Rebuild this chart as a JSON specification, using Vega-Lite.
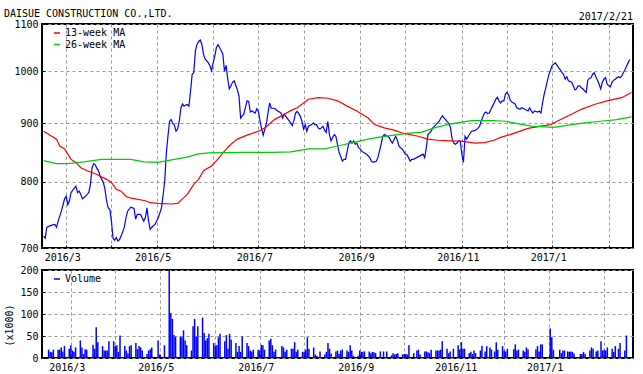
{
"$schema":"https://vega.github.io/schema/vega-lite/v6.json",
"background":"white",
"padding":{"left":3,"top":9,"right":10,"bottom":5},
"title":{"text":"DAISUE CONSTRUCTION CO.,LTD.","anchor":"start","font":"DejaVu Sans Mono","fontSize":10,"fontWeight":"normal","color":"#000","frame":"bounds","offset":-8},
"config":{
"font":"DejaVu Sans Mono",
"view":{"stroke":"#000","strokeWidth":2},
"axis":{"labelFont":"DejaVu Sans Mono","labelFontSize":10,"labelColor":"#000","titleFont":"DejaVu Sans Mono","titleFontSize":10,"titleFontWeight":"normal","titleColor":"#000","domain":false,"ticks":true,"tickSize":-3,"tickColor":"#000","tickWidth":1,"grid":true,"gridColor":"#999999","gridDash":[3,3],"gridWidth":1,"labelPadding":7},
"legend":{"symbolType":"stroke","symbolSize":36,"symbolStrokeWidth":1.5,"labelFont":"DejaVu Sans Mono","labelFontSize":10,"labelColor":"#000","padding":0,"rowPadding":1.5,"labelOffset":4}
},
"datasets":{
"price":[
{"date":"2016-02-22","value":717},{"date":"2016-02-23","value":714},{"date":"2016-02-24","value":730},{"date":"2016-02-27","value":733},{"date":"2016-02-29","value":734},{"date":"2016-03-01","value":730},{"date":"2016-03-02","value":739},{"date":"2016-03-04","value":754},{"date":"2016-03-06","value":773},{"date":"2016-03-07","value":777},{"date":"2016-03-08","value":764},{"date":"2016-03-09","value":770},{"date":"2016-03-10","value":783},{"date":"2016-03-12","value":790},{"date":"2016-03-13","value":793},{"date":"2016-03-14","value":783},{"date":"2016-03-15","value":785},{"date":"2016-03-16","value":780},{"date":"2016-03-17","value":773},{"date":"2016-03-18","value":775},{"date":"2016-03-20","value":780},{"date":"2016-03-21","value":783},{"date":"2016-03-22","value":796},{"date":"2016-03-23","value":823},{"date":"2016-03-24","value":830},{"date":"2016-03-25","value":828},{"date":"2016-03-26","value":822},{"date":"2016-03-27","value":818},{"date":"2016-03-28","value":809},{"date":"2016-03-29","value":804},{"date":"2016-03-30","value":799},{"date":"2016-03-31","value":788},
{"date":"2016-04-01","value":770},{"date":"2016-04-02","value":759},{"date":"2016-04-03","value":757},{"date":"2016-04-04","value":739},{"date":"2016-04-05","value":714},{"date":"2016-04-06","value":711},{"date":"2016-04-07","value":715},{"date":"2016-04-08","value":710},{"date":"2016-04-09","value":712},{"date":"2016-04-10","value":717},{"date":"2016-04-12","value":730},{"date":"2016-04-13","value":744},{"date":"2016-04-14","value":754},{"date":"2016-04-16","value":760},{"date":"2016-04-18","value":758},{"date":"2016-04-19","value":742},{"date":"2016-04-20","value":749},{"date":"2016-04-22","value":749},{"date":"2016-04-24","value":739},{"date":"2016-04-25","value":744},{"date":"2016-04-26","value":759},{"date":"2016-04-27","value":739},{"date":"2016-04-28","value":727},{"date":"2016-04-29","value":730},
{"date":"2016-05-01","value":734},{"date":"2016-05-03","value":744},{"date":"2016-05-05","value":759},{"date":"2016-05-06","value":779},{"date":"2016-05-07","value":801},{"date":"2016-05-08","value":848},{"date":"2016-05-09","value":877},{"date":"2016-05-10","value":904},{"date":"2016-05-11","value":907},{"date":"2016-05-12","value":900},{"date":"2016-05-13","value":897},{"date":"2016-05-14","value":886},{"date":"2016-05-15","value":890},{"date":"2016-05-16","value":904},{"date":"2016-05-17","value":928},{"date":"2016-05-18","value":936},{"date":"2016-05-19","value":932},{"date":"2016-05-20","value":934},{"date":"2016-05-21","value":935},{"date":"2016-05-22","value":932},{"date":"2016-05-23","value":961},{"date":"2016-05-24","value":994},{"date":"2016-05-25","value":997},{"date":"2016-05-26","value":1042},{"date":"2016-05-27","value":1056},{"date":"2016-05-28","value":1062},{"date":"2016-05-29","value":1065},{"date":"2016-05-30","value":1056},{"date":"2016-05-31","value":1035},
{"date":"2016-06-01","value":1025},{"date":"2016-06-02","value":1021},{"date":"2016-06-03","value":1017},{"date":"2016-06-04","value":1011},{"date":"2016-06-05","value":1001},{"date":"2016-06-06","value":1017},{"date":"2016-06-07","value":1031},{"date":"2016-06-08","value":1049},{"date":"2016-06-09","value":1055},{"date":"2016-06-10","value":1049},{"date":"2016-06-11","value":1042},{"date":"2016-06-12","value":1035},{"date":"2016-06-13","value":1000},{"date":"2016-06-14","value":1012},{"date":"2016-06-15","value":985},{"date":"2016-06-16","value":965},{"date":"2016-06-17","value":971},{"date":"2016-06-18","value":978},{"date":"2016-06-19","value":981},{"date":"2016-06-20","value":972},{"date":"2016-06-21","value":963},{"date":"2016-06-22","value":951},{"date":"2016-06-23","value":910},{"date":"2016-06-24","value":914},{"date":"2016-06-25","value":917},{"date":"2016-06-26","value":930},{"date":"2016-06-27","value":942},{"date":"2016-06-28","value":941},{"date":"2016-06-29","value":921},{"date":"2016-06-30","value":923},
{"date":"2016-07-01","value":921},{"date":"2016-07-02","value":919},{"date":"2016-07-03","value":927},{"date":"2016-07-04","value":922},{"date":"2016-07-05","value":905},{"date":"2016-07-06","value":890},{"date":"2016-07-07","value":879},{"date":"2016-07-08","value":890},{"date":"2016-07-09","value":900},{"date":"2016-07-10","value":920},{"date":"2016-07-11","value":938},{"date":"2016-07-12","value":928},{"date":"2016-07-13","value":928},{"date":"2016-07-14","value":928},{"date":"2016-07-15","value":925},{"date":"2016-07-16","value":923},{"date":"2016-07-17","value":921},{"date":"2016-07-18","value":919},{"date":"2016-07-19","value":910},{"date":"2016-07-20","value":917},{"date":"2016-07-21","value":913},{"date":"2016-07-22","value":909},{"date":"2016-07-23","value":905},{"date":"2016-07-24","value":901},{"date":"2016-07-25","value":896},{"date":"2016-07-26","value":905},{"date":"2016-07-27","value":919},{"date":"2016-07-28","value":922},{"date":"2016-07-29","value":918},{"date":"2016-07-30","value":913},{"date":"2016-07-31","value":904},
{"date":"2016-08-01","value":890},{"date":"2016-08-02","value":898},{"date":"2016-08-03","value":886},{"date":"2016-08-04","value":895},{"date":"2016-08-06","value":898},{"date":"2016-08-07","value":901},{"date":"2016-08-08","value":898},{"date":"2016-08-09","value":898},{"date":"2016-08-10","value":892},{"date":"2016-08-11","value":890},{"date":"2016-08-12","value":892},{"date":"2016-08-13","value":895},{"date":"2016-08-14","value":888},{"date":"2016-08-15","value":884},{"date":"2016-08-16","value":904},{"date":"2016-08-17","value":880},{"date":"2016-08-18","value":869},{"date":"2016-08-19","value":875},{"date":"2016-08-20","value":880},{"date":"2016-08-21","value":877},{"date":"2016-08-22","value":863},{"date":"2016-08-23","value":849},{"date":"2016-08-24","value":842},{"date":"2016-08-25","value":834},{"date":"2016-08-26","value":837},{"date":"2016-08-27","value":837},{"date":"2016-08-28","value":851},{"date":"2016-08-29","value":865},{"date":"2016-08-30","value":869},{"date":"2016-08-31","value":865},
{"date":"2016-09-01","value":869},{"date":"2016-09-02","value":863},{"date":"2016-09-03","value":865},{"date":"2016-09-04","value":857},{"date":"2016-09-05","value":855},{"date":"2016-09-06","value":851},{"date":"2016-09-07","value":849},{"date":"2016-09-09","value":846},{"date":"2016-09-10","value":843},{"date":"2016-09-11","value":840},{"date":"2016-09-12","value":834},{"date":"2016-09-13","value":832},{"date":"2016-09-15","value":834},{"date":"2016-09-16","value":840},{"date":"2016-09-17","value":851},{"date":"2016-09-18","value":863},{"date":"2016-09-19","value":876},{"date":"2016-09-20","value":880},{"date":"2016-09-22","value":877},{"date":"2016-09-23","value":875},{"date":"2016-09-24","value":869},{"date":"2016-09-25","value":865},{"date":"2016-09-26","value":871},{"date":"2016-09-27","value":877},{"date":"2016-09-28","value":871},{"date":"2016-09-29","value":860},{"date":"2016-09-30","value":857},
{"date":"2016-10-01","value":855},{"date":"2016-10-02","value":851},{"date":"2016-10-03","value":846},{"date":"2016-10-04","value":845},{"date":"2016-10-05","value":840},{"date":"2016-10-06","value":834},{"date":"2016-10-07","value":837},{"date":"2016-10-08","value":837},{"date":"2016-10-10","value":840},{"date":"2016-10-12","value":843},{"date":"2016-10-14","value":846},{"date":"2016-10-15","value":840},{"date":"2016-10-16","value":857},{"date":"2016-10-17","value":880},{"date":"2016-10-19","value":886},{"date":"2016-10-20","value":892},{"date":"2016-10-22","value":898},{"date":"2016-10-23","value":901},{"date":"2016-10-24","value":904},{"date":"2016-10-25","value":910},{"date":"2016-10-26","value":914},{"date":"2016-10-27","value":910},{"date":"2016-10-28","value":907},{"date":"2016-10-29","value":903},{"date":"2016-10-30","value":900},{"date":"2016-10-31","value":892},
{"date":"2016-11-01","value":872},{"date":"2016-11-02","value":865},{"date":"2016-11-03","value":863},{"date":"2016-11-04","value":865},{"date":"2016-11-05","value":869},{"date":"2016-11-06","value":869},{"date":"2016-11-07","value":846},{"date":"2016-11-08","value":832},{"date":"2016-11-09","value":877},{"date":"2016-11-10","value":872},{"date":"2016-11-11","value":877},{"date":"2016-11-13","value":886},{"date":"2016-11-15","value":887},{"date":"2016-11-17","value":891},{"date":"2016-11-18","value":895},{"date":"2016-11-19","value":904},{"date":"2016-11-20","value":912},{"date":"2016-11-21","value":919},{"date":"2016-11-22","value":921},{"date":"2016-11-23","value":918},{"date":"2016-11-24","value":919},{"date":"2016-11-25","value":926},{"date":"2016-11-26","value":932},{"date":"2016-11-27","value":938},{"date":"2016-11-28","value":945},{"date":"2016-11-29","value":949},{"date":"2016-11-30","value":942},
{"date":"2016-12-01","value":938},{"date":"2016-12-02","value":942},{"date":"2016-12-03","value":942},{"date":"2016-12-04","value":955},{"date":"2016-12-05","value":958},{"date":"2016-12-06","value":953},{"date":"2016-12-07","value":943},{"date":"2016-12-08","value":940},{"date":"2016-12-09","value":938},{"date":"2016-12-10","value":936},{"date":"2016-12-11","value":929},{"date":"2016-12-13","value":926},{"date":"2016-12-14","value":929},{"date":"2016-12-16","value":926},{"date":"2016-12-18","value":923},{"date":"2016-12-19","value":929},{"date":"2016-12-20","value":923},{"date":"2016-12-21","value":919},{"date":"2016-12-22","value":923},{"date":"2016-12-24","value":921},{"date":"2016-12-25","value":923},{"date":"2016-12-26","value":919},{"date":"2016-12-27","value":938},{"date":"2016-12-28","value":955},{"date":"2016-12-29","value":967},{"date":"2016-12-30","value":981},{"date":"2016-12-31","value":994},
{"date":"2017-01-01","value":1003},{"date":"2017-01-02","value":1012},{"date":"2017-01-04","value":1017},{"date":"2017-01-05","value":1012},{"date":"2017-01-06","value":1007},{"date":"2017-01-07","value":1003},{"date":"2017-01-08","value":997},{"date":"2017-01-09","value":994},{"date":"2017-01-10","value":984},{"date":"2017-01-11","value":989},{"date":"2017-01-12","value":981},{"date":"2017-01-14","value":978},{"date":"2017-01-15","value":971},{"date":"2017-01-16","value":963},{"date":"2017-01-17","value":965},{"date":"2017-01-18","value":971},{"date":"2017-01-19","value":971},{"date":"2017-01-20","value":967},{"date":"2017-01-21","value":965},{"date":"2017-01-22","value":961},{"date":"2017-01-23","value":958},{"date":"2017-01-24","value":982},{"date":"2017-01-25","value":986},{"date":"2017-01-26","value":987},{"date":"2017-01-27","value":994},{"date":"2017-01-28","value":997},{"date":"2017-01-29","value":989},{"date":"2017-01-30","value":982},{"date":"2017-01-31","value":974},
{"date":"2017-02-01","value":965},{"date":"2017-02-02","value":978},{"date":"2017-02-03","value":984},{"date":"2017-02-04","value":987},{"date":"2017-02-05","value":974},{"date":"2017-02-06","value":971},{"date":"2017-02-07","value":969},{"date":"2017-02-08","value":978},{"date":"2017-02-09","value":982},{"date":"2017-02-10","value":984},{"date":"2017-02-11","value":987},{"date":"2017-02-12","value":989},{"date":"2017-02-13","value":987},{"date":"2017-02-14","value":990},{"date":"2017-02-15","value":997},{"date":"2017-02-16","value":1003},{"date":"2017-02-17","value":1010},{"date":"2017-02-18","value":1017},{"date":"2017-02-19","value":1024}
],
"ma":[
{"series":"13-week MA","date":"2016-02-22","value":886},{"series":"13-week MA","date":"2016-02-27","value":877},{"series":"13-week MA","date":"2016-03-01","value":872},{"series":"13-week MA","date":"2016-03-03","value":860},{"series":"13-week MA","date":"2016-03-06","value":855},{"series":"13-week MA","date":"2016-03-08","value":846},{"series":"13-week MA","date":"2016-03-10","value":837},{"series":"13-week MA","date":"2016-03-13","value":832},{"series":"13-week MA","date":"2016-03-16","value":823},{"series":"13-week MA","date":"2016-03-20","value":818},{"series":"13-week MA","date":"2016-03-26","value":812},{"series":"13-week MA","date":"2016-04-01","value":804},{"series":"13-week MA","date":"2016-04-04","value":799},{"series":"13-week MA","date":"2016-04-07","value":788},{"series":"13-week MA","date":"2016-04-10","value":785},{"series":"13-week MA","date":"2016-04-13","value":777},{"series":"13-week MA","date":"2016-04-16","value":774},{"series":"13-week MA","date":"2016-04-19","value":773},{"series":"13-week MA","date":"2016-04-25","value":770},{"series":"13-week MA","date":"2016-04-28","value":767},{"series":"13-week MA","date":"2016-05-03","value":766},{"series":"13-week MA","date":"2016-05-11","value":765},{"series":"13-week MA","date":"2016-05-15","value":766},{"series":"13-week MA","date":"2016-05-18","value":773},{"series":"13-week MA","date":"2016-05-21","value":780},{"series":"13-week MA","date":"2016-05-25","value":796},{"series":"13-week MA","date":"2016-05-28","value":804},{"series":"13-week MA","date":"2016-05-31","value":818},{"series":"13-week MA","date":"2016-06-05","value":826},{"series":"13-week MA","date":"2016-06-09","value":838},{"series":"13-week MA","date":"2016-06-13","value":851},{"series":"13-week MA","date":"2016-06-17","value":863},{"series":"13-week MA","date":"2016-06-21","value":872},{"series":"13-week MA","date":"2016-06-27","value":879},{"series":"13-week MA","date":"2016-07-04","value":886},{"series":"13-week MA","date":"2016-07-08","value":892},{"series":"13-week MA","date":"2016-07-14","value":907},{"series":"13-week MA","date":"2016-07-20","value":917},{"series":"13-week MA","date":"2016-07-25","value":925},{"series":"13-week MA","date":"2016-07-28","value":929},{"series":"13-week MA","date":"2016-08-01","value":938},{"series":"13-week MA","date":"2016-08-04","value":945},{"series":"13-week MA","date":"2016-08-10","value":948},{"series":"13-week MA","date":"2016-08-16","value":947},{"series":"13-week MA","date":"2016-08-22","value":942},{"series":"13-week MA","date":"2016-08-28","value":932},{"series":"13-week MA","date":"2016-09-03","value":923},{"series":"13-week MA","date":"2016-09-10","value":910},{"series":"13-week MA","date":"2016-09-14","value":898},{"series":"13-week MA","date":"2016-09-20","value":892},{"series":"13-week MA","date":"2016-09-26","value":888},{"series":"13-week MA","date":"2016-10-02","value":882},{"series":"13-week MA","date":"2016-10-11","value":877},{"series":"13-week MA","date":"2016-10-17","value":872},{"series":"13-week MA","date":"2016-10-23","value":870},{"series":"13-week MA","date":"2016-10-31","value":869},{"series":"13-week MA","date":"2016-11-08","value":868},{"series":"13-week MA","date":"2016-11-15","value":865},{"series":"13-week MA","date":"2016-11-21","value":866},{"series":"13-week MA","date":"2016-11-27","value":870},{"series":"13-week MA","date":"2016-12-01","value":875},{"series":"13-week MA","date":"2016-12-07","value":880},{"series":"13-week MA","date":"2016-12-18","value":891},{"series":"13-week MA","date":"2016-12-26","value":895},{"series":"13-week MA","date":"2017-01-01","value":898},{"series":"13-week MA","date":"2017-01-05","value":904},{"series":"13-week MA","date":"2017-01-12","value":914},{"series":"13-week MA","date":"2017-01-20","value":926},{"series":"13-week MA","date":"2017-01-28","value":935},{"series":"13-week MA","date":"2017-02-05","value":942},{"series":"13-week MA","date":"2017-02-14","value":948},{"series":"13-week MA","date":"2017-02-20","value":958},
{"series":"26-week MA","date":"2016-02-22","value":835},{"series":"26-week MA","date":"2016-03-01","value":830},{"series":"26-week MA","date":"2016-03-08","value":830},{"series":"26-week MA","date":"2016-03-18","value":833},{"series":"26-week MA","date":"2016-03-29","value":837},{"series":"26-week MA","date":"2016-04-06","value":837},{"series":"26-week MA","date":"2016-04-16","value":837},{"series":"26-week MA","date":"2016-04-24","value":833},{"series":"26-week MA","date":"2016-05-03","value":832},{"series":"26-week MA","date":"2016-05-07","value":834},{"series":"26-week MA","date":"2016-05-13","value":837},{"series":"26-week MA","date":"2016-05-21","value":841},{"series":"26-week MA","date":"2016-05-27","value":846},{"series":"26-week MA","date":"2016-06-03","value":848},{"series":"26-week MA","date":"2016-06-23","value":849},{"series":"26-week MA","date":"2016-07-12","value":849},{"series":"26-week MA","date":"2016-07-24","value":850},{"series":"26-week MA","date":"2016-08-04","value":855},{"series":"26-week MA","date":"2016-08-14","value":855},{"series":"26-week MA","date":"2016-08-22","value":860},{"series":"26-week MA","date":"2016-08-30","value":865},{"series":"26-week MA","date":"2016-09-10","value":872},{"series":"26-week MA","date":"2016-09-18","value":876},{"series":"26-week MA","date":"2016-09-26","value":879},{"series":"26-week MA","date":"2016-10-04","value":882},{"series":"26-week MA","date":"2016-10-13","value":884},{"series":"26-week MA","date":"2016-10-21","value":892},{"series":"26-week MA","date":"2016-10-29","value":898},{"series":"26-week MA","date":"2016-11-04","value":901},{"series":"26-week MA","date":"2016-11-13","value":905},{"series":"26-week MA","date":"2016-11-27","value":905},{"series":"26-week MA","date":"2016-12-04","value":904},{"series":"26-week MA","date":"2016-12-09","value":901},{"series":"26-week MA","date":"2016-12-20","value":895},{"series":"26-week MA","date":"2017-01-03","value":893},{"series":"26-week MA","date":"2017-01-12","value":897},{"series":"26-week MA","date":"2017-01-22","value":901},{"series":"26-week MA","date":"2017-02-01","value":904},{"series":"26-week MA","date":"2017-02-11","value":907},{"series":"26-week MA","date":"2017-02-20","value":912}
],
"volume":[
{"date":"2016-02-22","v":19},{"date":"2016-02-23","v":14},{"date":"2016-02-24","v":13},{"date":"2016-02-25","v":19},{"date":"2016-02-28","v":19},{"date":"2016-02-29","v":19},{"date":"2016-03-01","v":24},{"date":"2016-03-02","v":15},{"date":"2016-03-03","v":27},{"date":"2016-03-06","v":21},{"date":"2016-03-07","v":29},{"date":"2016-03-08","v":17},{"date":"2016-03-09","v":14},{"date":"2016-03-10","v":24},{"date":"2016-03-13","v":40},{"date":"2016-03-14","v":24},{"date":"2016-03-15","v":9},{"date":"2016-03-16","v":20},{"date":"2016-03-17","v":19},{"date":"2016-03-21","v":30},{"date":"2016-03-22","v":21},{"date":"2016-03-23","v":70},{"date":"2016-03-24","v":36},{"date":"2016-03-27","v":27},{"date":"2016-03-28","v":17},{"date":"2016-03-29","v":17},{"date":"2016-03-30","v":17},{"date":"2016-03-31","v":38},
{"date":"2016-04-03","v":38},{"date":"2016-04-04","v":27},{"date":"2016-04-05","v":29},{"date":"2016-04-06","v":14},{"date":"2016-04-07","v":51},{"date":"2016-04-10","v":27},{"date":"2016-04-11","v":17},{"date":"2016-04-12","v":10},{"date":"2016-04-13","v":27},{"date":"2016-04-14","v":29},{"date":"2016-04-17","v":34},{"date":"2016-04-18","v":20},{"date":"2016-04-19","v":27},{"date":"2016-04-20","v":24},{"date":"2016-04-21","v":17},{"date":"2016-04-24","v":9},{"date":"2016-04-25","v":17},{"date":"2016-04-26","v":20},{"date":"2016-04-27","v":24},
{"date":"2016-05-01","v":40},{"date":"2016-05-02","v":8},{"date":"2016-05-05","v":29},{"date":"2016-05-08","v":200},{"date":"2016-05-09","v":102},{"date":"2016-05-10","v":89},{"date":"2016-05-11","v":52},{"date":"2016-05-12","v":48},{"date":"2016-05-15","v":49},{"date":"2016-05-16","v":47},{"date":"2016-05-17","v":63},{"date":"2016-05-18","v":40},{"date":"2016-05-19","v":29},{"date":"2016-05-22","v":17},{"date":"2016-05-23","v":72},{"date":"2016-05-24","v":89},{"date":"2016-05-25","v":49},{"date":"2016-05-26","v":72},{"date":"2016-05-29","v":92},{"date":"2016-05-30","v":57},{"date":"2016-05-31","v":40},
{"date":"2016-06-01","v":45},{"date":"2016-06-02","v":55},{"date":"2016-06-05","v":34},{"date":"2016-06-06","v":28},{"date":"2016-06-07","v":29},{"date":"2016-06-08","v":47},{"date":"2016-06-09","v":55},{"date":"2016-06-12","v":38},{"date":"2016-06-13","v":52},{"date":"2016-06-14","v":21},{"date":"2016-06-15","v":55},{"date":"2016-06-16","v":42},{"date":"2016-06-19","v":34},{"date":"2016-06-20","v":14},{"date":"2016-06-21","v":27},{"date":"2016-06-22","v":14},{"date":"2016-06-23","v":49},{"date":"2016-06-26","v":34},{"date":"2016-06-27","v":27},{"date":"2016-06-28","v":17},{"date":"2016-06-29","v":15},{"date":"2016-06-30","v":19},
{"date":"2016-07-03","v":19},{"date":"2016-07-04","v":17},{"date":"2016-07-05","v":30},{"date":"2016-07-06","v":29},{"date":"2016-07-07","v":19},{"date":"2016-07-10","v":40},{"date":"2016-07-11","v":44},{"date":"2016-07-12","v":29},{"date":"2016-07-13","v":14},{"date":"2016-07-14","v":19},{"date":"2016-07-18","v":27},{"date":"2016-07-19","v":24},{"date":"2016-07-20","v":14},{"date":"2016-07-21","v":19},{"date":"2016-07-24","v":21},{"date":"2016-07-25","v":21},{"date":"2016-07-26","v":36},{"date":"2016-07-27","v":14},{"date":"2016-07-28","v":19},{"date":"2016-07-31","v":14},
{"date":"2016-08-01","v":14},{"date":"2016-08-02","v":19},{"date":"2016-08-03","v":47},{"date":"2016-08-04","v":21},{"date":"2016-08-07","v":24},{"date":"2016-08-08","v":8},{"date":"2016-08-09","v":5},{"date":"2016-08-11","v":15},{"date":"2016-08-14","v":8},{"date":"2016-08-15","v":14},{"date":"2016-08-16","v":34},{"date":"2016-08-17","v":21},{"date":"2016-08-18","v":10},{"date":"2016-08-21","v":15},{"date":"2016-08-22","v":17},{"date":"2016-08-23","v":9},{"date":"2016-08-24","v":17},{"date":"2016-08-25","v":19},{"date":"2016-08-28","v":17},{"date":"2016-08-29","v":14},{"date":"2016-08-30","v":29},{"date":"2016-08-31","v":17},
{"date":"2016-09-01","v":5},{"date":"2016-09-04","v":5},{"date":"2016-09-05","v":17},{"date":"2016-09-06","v":14},{"date":"2016-09-07","v":14},{"date":"2016-09-08","v":15},{"date":"2016-09-11","v":15},{"date":"2016-09-12","v":11},{"date":"2016-09-13","v":14},{"date":"2016-09-14","v":13},{"date":"2016-09-15","v":11},{"date":"2016-09-18","v":15},{"date":"2016-09-20","v":15},{"date":"2016-09-22","v":15},{"date":"2016-09-25","v":6},{"date":"2016-09-26","v":11},{"date":"2016-09-27","v":8},{"date":"2016-09-28","v":9},{"date":"2016-09-29","v":11},
{"date":"2016-10-02","v":8},{"date":"2016-10-03","v":9},{"date":"2016-10-04","v":9},{"date":"2016-10-05","v":8},{"date":"2016-10-06","v":29},{"date":"2016-10-09","v":11},{"date":"2016-10-11","v":17},{"date":"2016-10-12","v":19},{"date":"2016-10-13","v":8},{"date":"2016-10-16","v":15},{"date":"2016-10-17","v":15},{"date":"2016-10-18","v":13},{"date":"2016-10-19","v":11},{"date":"2016-10-20","v":19},{"date":"2016-10-23","v":17},{"date":"2016-10-24","v":17},{"date":"2016-10-25","v":17},{"date":"2016-10-26","v":19},{"date":"2016-10-27","v":38},{"date":"2016-10-30","v":21},{"date":"2016-10-31","v":11},
{"date":"2016-11-01","v":15},{"date":"2016-11-03","v":21},{"date":"2016-11-06","v":29},{"date":"2016-11-07","v":19},{"date":"2016-11-08","v":36},{"date":"2016-11-09","v":21},{"date":"2016-11-10","v":21},{"date":"2016-11-13","v":11},{"date":"2016-11-14","v":14},{"date":"2016-11-15","v":9},{"date":"2016-11-16","v":17},{"date":"2016-11-17","v":11},{"date":"2016-11-20","v":17},{"date":"2016-11-21","v":27},{"date":"2016-11-23","v":15},{"date":"2016-11-24","v":27},{"date":"2016-11-26","v":24},{"date":"2016-11-27","v":19},{"date":"2016-11-29","v":15},{"date":"2016-11-30","v":36},
{"date":"2016-12-01","v":19},{"date":"2016-12-04","v":27},{"date":"2016-12-05","v":17},{"date":"2016-12-06","v":15},{"date":"2016-12-07","v":21},{"date":"2016-12-11","v":20},{"date":"2016-12-12","v":31},{"date":"2016-12-13","v":17},{"date":"2016-12-14","v":19},{"date":"2016-12-17","v":17},{"date":"2016-12-18","v":14},{"date":"2016-12-19","v":24},{"date":"2016-12-20","v":20},{"date":"2016-12-25","v":20},{"date":"2016-12-26","v":27},{"date":"2016-12-27","v":15},{"date":"2016-12-28","v":31},{"date":"2016-12-29","v":31},
{"date":"2017-01-03","v":67},{"date":"2017-01-04","v":47},{"date":"2017-01-05","v":19},{"date":"2017-01-09","v":19},{"date":"2017-01-10","v":11},{"date":"2017-01-11","v":17},{"date":"2017-01-12","v":17},{"date":"2017-01-14","v":15},{"date":"2017-01-15","v":14},{"date":"2017-01-16","v":15},{"date":"2017-01-17","v":14},{"date":"2017-01-18","v":10},{"date":"2017-01-22","v":9},{"date":"2017-01-23","v":9},{"date":"2017-01-24","v":14},{"date":"2017-01-25","v":9},{"date":"2017-01-28","v":17},{"date":"2017-01-29","v":24},{"date":"2017-01-30","v":21},
{"date":"2017-02-01","v":15},{"date":"2017-02-02","v":17},{"date":"2017-02-04","v":38},{"date":"2017-02-05","v":17},{"date":"2017-02-06","v":19},{"date":"2017-02-07","v":17},{"date":"2017-02-08","v":24},{"date":"2017-02-11","v":21},{"date":"2017-02-12","v":14},{"date":"2017-02-13","v":27},{"date":"2017-02-15","v":21},{"date":"2017-02-16","v":34},{"date":"2017-02-19","v":17},{"date":"2017-02-20","v":51}
]
},
"bounds":"flush",
"spacing":22,
"resolve":{"scale":{"color":"independent"},"legend":{"color":"independent"}},
"vconcat":[
{
"width":591,"height":224,
"title":{"text":"2017/2/21","anchor":"end","font":"DejaVu Sans Mono","fontSize":10,"fontWeight":"normal","color":"#000","offset":-3},
"layer":[
{"data":{"name":"price"},"mark":{"type":"line","color":"#0000ff","strokeWidth":1.2,"clip":true},
"encoding":{
"x":{"field":"date","type":"temporal","scale":{"type":"utc","domain":[{"year":2016,"month":2,"date":21,"utc":true},{"year":2017,"month":2,"date":21,"utc":true}]},
"axis":{"title":null,"values":[{"year":2016,"month":3,"date":7,"utc":true},{"year":2016,"month":4,"date":4,"utc":true},{"year":2016,"month":5,"date":2,"utc":true},{"year":2016,"month":6,"date":6,"utc":true},{"year":2016,"month":7,"date":4,"utc":true},{"year":2016,"month":8,"date":1,"utc":true},{"year":2016,"month":9,"date":5,"utc":true},{"year":2016,"month":10,"date":3,"utc":true},{"year":2016,"month":11,"date":7,"utc":true},{"year":2016,"month":12,"date":5,"utc":true},{"year":2017,"month":1,"date":2,"utc":true},{"year":2017,"month":2,"date":6,"utc":true}],
"labelExpr":"utcmonth(datum.value) % 2 == 0 ? utcFormat(datum.value, '%Y/%-m') : ''","labelOffset":-4,"labelFlush":false,"labelOverlap":false}},
"y":{"field":"value","type":"quantitative","scale":{"type":"log","domain":[700,1100],"nice":false},"axis":{"title":null,"values":[700,800,900,1000,1100],"format":"d"}}
}},
{"data":{"name":"ma"},"mark":{"type":"line","strokeWidth":1.2,"clip":true},
"encoding":{
"x":{"field":"date","type":"temporal"},
"y":{"field":"value","type":"quantitative"},
"color":{"field":"series","type":"nominal","scale":{"domain":["13-week MA","26-week MA"],"range":["#ff0000","#00cc00"]},"legend":{"title":null,"orient":"none","legendX":10,"legendY":4,"labelOffset":3}}
}}
]
},
{
"width":591,"height":88,
"data":{"name":"volume"},
"mark":{"type":"bar","width":1.5,"clip":true},
"encoding":{
"x":{"field":"date","type":"temporal","scale":{"type":"utc","domain":[{"year":2016,"month":2,"date":21,"utc":true},{"year":2017,"month":2,"date":21,"utc":true}]},
"axis":{"title":null,"values":[{"year":2016,"month":3,"date":7,"utc":true},{"year":2016,"month":4,"date":4,"utc":true},{"year":2016,"month":5,"date":2,"utc":true},{"year":2016,"month":6,"date":6,"utc":true},{"year":2016,"month":7,"date":4,"utc":true},{"year":2016,"month":8,"date":1,"utc":true},{"year":2016,"month":9,"date":5,"utc":true},{"year":2016,"month":10,"date":3,"utc":true},{"year":2016,"month":11,"date":7,"utc":true},{"year":2016,"month":12,"date":5,"utc":true},{"year":2017,"month":1,"date":2,"utc":true},{"year":2017,"month":2,"date":6,"utc":true}],
"labelExpr":"utcmonth(datum.value) % 2 == 0 ? utcFormat(datum.value, '%Y/%-m') : ''","labelOffset":-4,"labelFlush":false,"labelOverlap":false}},
"y":{"field":"v","type":"quantitative","scale":{"domain":[0,200],"nice":false},"axis":{"title":"(x1000)","values":[0,50,100,150,200],"titlePadding":5,"titleY":55}},
"color":{"datum":"Volume","type":"nominal","scale":{"range":["#0000ff"]},"legend":{"title":null,"orient":"none","legendX":10,"legendY":4,"labelOffset":3,"symbolType":"stroke","symbolStrokeColor":"#0000ff"}}
}
}
]
}
